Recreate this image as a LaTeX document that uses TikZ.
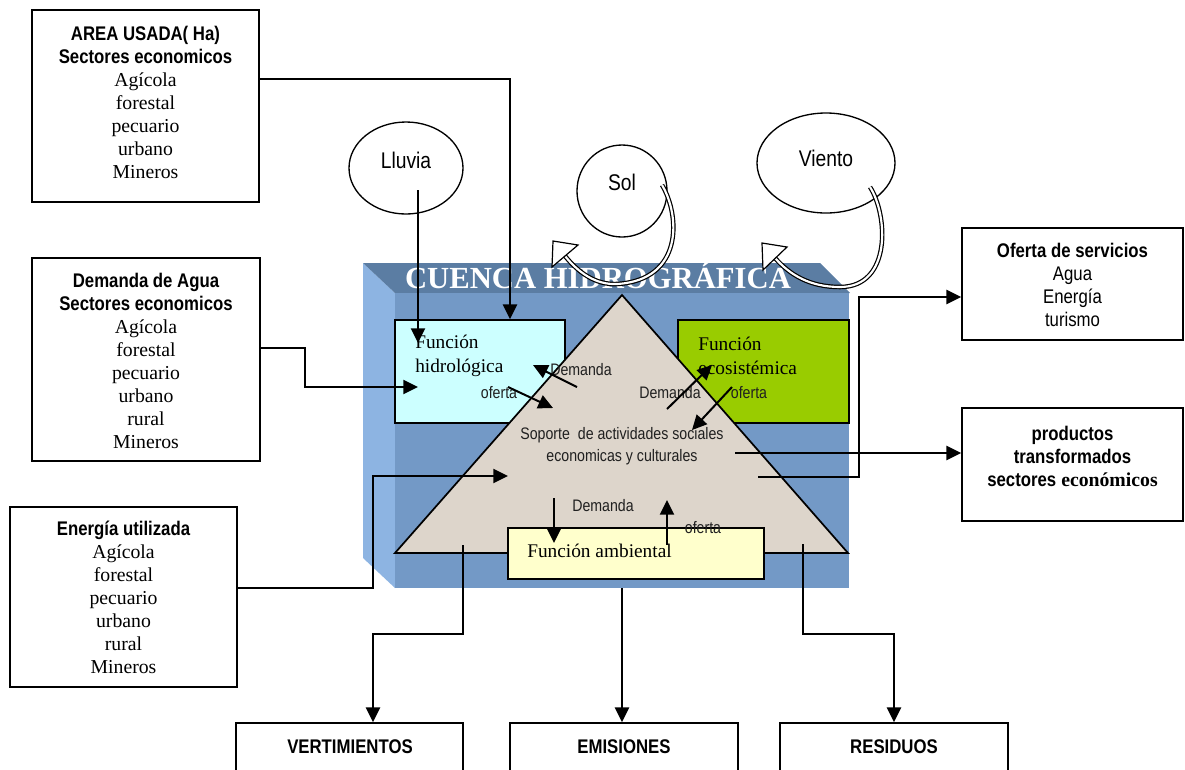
\documentclass[tikz,border=0pt]{standalone}
\usepackage{fontspec}
\setmainfont{Liberation Serif}
\newfontfamily\nsans[FakeStretch=0.85]{Liberation Sans}
\usetikzlibrary{arrows.meta,shapes.geometric,fit,calc}

\definecolor{frontblue}{HTML}{7399C6}
\definecolor{topblue}{HTML}{5B7DA3}
\definecolor{sideblue}{HTML}{8DB4E2}
\definecolor{soil}{HTML}{DDD5CB}
\definecolor{hidrofill}{HTML}{CCFFFF}
\definecolor{ecofill}{HTML}{99CC00}
\definecolor{ambfill}{HTML}{FFFFCC}
\definecolor{labelgray}{HTML}{202020}

\newcommand\hd[1]{{\nsans\bfseries #1}}

\tikzset{
  frame/.style={draw, line width=1.3pt, inner sep=0pt},
  boxtext/.style={inner sep=0pt, align=center,
    font=\fontsize{14.8}{17.25}\selectfont},
  hdtext/.style={inner sep=0pt, font=\nsans\bfseries\fontsize{14.8}{17.25}\selectfont},
  conn/.style={line width=1.5pt, -{Triangle[length=11pt,width=10.5pt]}},
  oval/.style={ellipse, draw, line width=1pt, inner sep=0pt},
  ovaltext/.style={font=\nsans\fontsize{17}{20}\selectfont, inner sep=0pt},
  inlabel/.style={font=\nsans\fontsize{12.5}{15}\selectfont, text=labelgray, inner sep=0pt},
  funcbox/.style={draw, line width=1.3pt, inner sep=0pt},
  functext/.style={font=\fontsize{14.5}{18}\selectfont, align=left, inner sep=0pt, anchor=west},
  twin/.style={double, line width=0.9pt, double distance=1.6pt},
  openhead/.style={draw, fill=white, line width=0.9pt, line join=miter},
}

\begin{document}
\begin{tikzpicture}[x=0.75pt,y=-0.75pt]
\useasboundingbox (0,0) rectangle (1185,769);

% ---- input boxes on the left ----
\node[frame, fit={(32,10) (259,202)}] (area) {};
\node[boxtext, yshift=2.5pt] (areatxt) at (area.center)
  {\hd{AREA USADA( Ha)}\\ \hd{Sectores economicos}\\ Agícola\\ forestal\\ pecuario\\ urbano\\ Mineros};
\node[frame, fit={(32,258) (260,461)}] (dem) {};
\node[boxtext, yshift=-1pt] (demtxt) at (dem.center)
  {\hd{Demanda de Agua}\\ \hd{Sectores economicos}\\ Agícola\\ forestal\\ pecuario\\ urbano\\ rural\\ Mineros};
\node[frame, fit={(10,507) (237,687)}] (ene) {};
\node[boxtext, yshift=0pt] (enetxt) at (ene.center)
  {\hd{Energía utilizada}\\ Agícola\\ forestal\\ pecuario\\ urbano\\ rural\\ Mineros};

% ---- output boxes on the right ----
\node[frame, fit={(962,228) (1183,340)}] (ofe) {};
\node[boxtext, yshift=-0.75pt] (ofetxt) at (ofe.center)
  {\hd{Oferta de servicios}\\ {\nsans Agua}\\ {\nsans Energía}\\ {\nsans turismo}};
\node[frame, fit={(962,408) (1183,521)}] (prod) {};
\node[boxtext, yshift=-2.75pt] (prodtxt) at (prod.center)
  {\hd{productos}\\ \hd{transformados}\\ \hd{sectores} \textbf{económicos}\\ \mbox{}};

% ---- output boxes at the bottom ----
\node[frame, fit={(236,723) (463,785)}] (vert) {};
\node[hdtext] (verttxt) at (350,747) {VERTIMIENTOS};
\node[frame, fit={(510,723) (738,785)}] (emi) {};
\node[hdtext] (emitxt) at (624,747) {EMISIONES};
\node[frame, fit={(780,723) (1008,785)}] (res) {};
\node[hdtext] (restxt) at (894,747) {RESIDUOS};

% ---- climate inputs ----
\node[oval, minimum width=85.5pt, minimum height=69pt,
  label={[ovaltext, yshift=6pt]center:Lluvia}] (lluvia) at (406,168) {};
\node[oval, minimum width=67.5pt, minimum height=69pt,
  label={[ovaltext, yshift=6.5pt]center:Sol}] (sol) at (622,191) {};
\node[oval, minimum width=103.5pt, minimum height=75pt,
  label={[ovaltext, yshift=3.5pt]center:Viento}] (viento) at (826,163) {};

% ---- the watershed block ----
\fill[sideblue] (363,263) -- (395,293) -- (395,588) -- (363,558) -- cycle;
\fill[topblue] (363,263) -- (820,263) -- (850,293) -- (395,293) -- cycle;
\node[fill=frontblue, inner sep=0pt, fit={(395,293) (849,588)}] (cuenca) {};
\node[text=white, font=\bfseries\fontsize{23}{26}\selectfont, inner sep=0pt, anchor=base]
  (titulo) at (598,288) {CUENCA HIDROGRÁFICA};

\node[funcbox, fill=hidrofill, fit={(395,320) (565,423)}] (hidro) {};
\node[funcbox, fill=ecofill, fit={(678,320) (849,423)}] (eco) {};

\draw[fill=soil, line width=1.3pt, line join=miter] (395,553) -- (622,295) -- (848,553) -- cycle;

\node[funcbox, fill=ambfill, fit={(508,528) (764,579)}] (amb) {};

\node[functext] (hidrotxt) at (415,356) {Función\\hidrológica};
\node[functext] (ecotxt) at (698,356) {Función\\ecosistémica};
\node[functext] (ambtxt) at (527,551) {Función ambiental};

% ---- labels on the pyramid ----
\node[inlabel] (dem1) at (581,370) {Demanda};
\node[inlabel] (ofe1) at (499,393) {oferta};
\node[inlabel] (dem2) at (670,393) {Demanda};
\node[inlabel] (ofe2) at (749,393) {oferta};
\node[inlabel, align=center, font=\nsans\fontsize{12.5}{16.5}\selectfont] (soporte) at (622,446)
  {Soporte\ \ de actividades sociales\\ economicas y culturales};
\node[inlabel] (dem3) at (603,506) {Demanda};
\node[inlabel] (ofe3) at (703,528) {oferta};

% ---- exchange arrows between the functions ----
\coordinate (d1s) at (577,387); \coordinate (d1e) at (533,365);
\coordinate (o1s) at (508,387); \coordinate (o1e) at (553,408);
\coordinate (d2s) at (667,409); \coordinate (d2e) at (712,365);
\coordinate (o2s) at (732,387); \coordinate (o2e) at (692,430);
\coordinate (d3s) at (554,498); \coordinate (d3e) at (554,543);
\coordinate (o3s) at (667,545); \coordinate (o3e) at (667,500);
\draw[conn] (d1s) -- (d1e);
\draw[conn] (o1s) -- (o1e);
\draw[conn] (d2s) -- (d2e);
\draw[conn] (o2s) -- (o2e);
\draw[conn] (d3s) -- (d3e);
\draw[conn] (o3s) -- (o3e);

% ---- inputs ----
\coordinate (aT) at (510,79);
\draw[conn] (area.east |- aT) -| (aT |- hidro.north);
\coordinate (lS) at (418,190); \coordinate (lE) at (418,343);
\draw[conn] (lS) -- (lE);
\coordinate (dB) at (305,348); \coordinate (dE) at (418,387);
\draw[conn] (dem.east |- dB) -- (dB) |- (dE);
\coordinate (eB) at (373,588); \coordinate (eE) at (508,476);
\draw[conn] (ene.east |- eB) -- (eB) |- (eE);

% ---- outputs to the right ----
\coordinate (pS) at (735,453);
\draw[conn] (pS) -- (pS -| prod.west);
\coordinate (sS) at (758,477); \coordinate (sB) at (859,297);
\draw[conn] (sS) -| (sB) -- (sB -| ofe.west);

% ---- outputs to the bottom ----
\coordinate (vS) at (463,545); \coordinate (vB) at (373,634);
\draw[conn] (vS) |- (vB) -- (vB |- vert.north);
\draw[conn] (cuenca.south) -- (cuenca.south |- emi.north);
\coordinate (rS) at (803,544); \coordinate (rB) at (894,634);
\draw[conn] (rS) |- (rB) -- (rB |- res.north);

% ---- sun and wind loops ----
\coordinate (solS) at (662,185);
\draw[twin] (solS) .. controls (680,215) and (684,280) .. (617,284)
  .. controls (595,285) and (578,272) .. (565,256);
\draw[openhead] (553,241) -- (578,245) -- (552,267) -- cycle;

\coordinate (vientoS) at (870,187);
\draw[twin] (vientoS) .. controls (888,215) and (892,287) .. (840,287)
  .. controls (810,287) and (790,275) .. (775,258);
\draw[openhead] (762,243) -- (787,247) -- (763,270) -- cycle;
\end{tikzpicture}
\end{document}
